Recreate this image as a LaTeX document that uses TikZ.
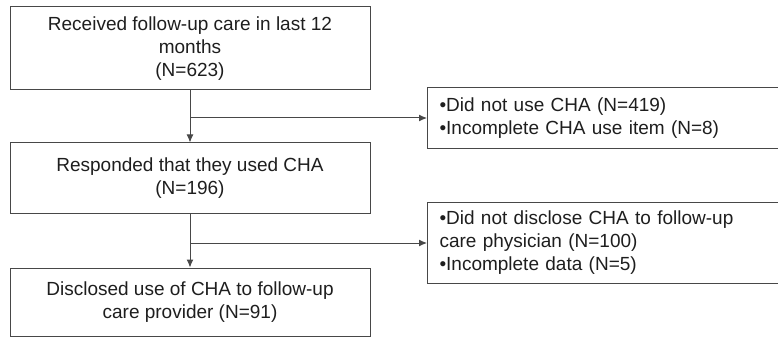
\documentclass[tikz,border=0pt]{standalone}
\usepackage{fontspec}
\setmainfont{Liberation Sans}
\usepackage{xcolor}
\usetikzlibrary{arrows.meta}
\definecolor{lineColor}{HTML}{484848}
\definecolor{textColor}{HTML}{1E1E1E}

\tikzset{
    stagebox/.style={draw=lineColor, line width=1pt, minimum width=360pt, align=center,
        text=textColor, font=\fontsize{19}{23}\selectfont, inner sep=0pt},
    exclbox/.style={draw=lineColor, line width=1pt, text width=390pt, align=left,
        inner xsep=12pt, inner ysep=0pt, anchor=north west, text=textColor,
        font=\fontsize{19}{23}\selectfont},
    flow/.style={draw=lineColor, line width=1pt, -{Latex[length=8pt, width=7pt]}}
}

\begin{document}
\begin{tikzpicture}[x=1pt, y=-1pt]
    \useasboundingbox (0,0) rectangle (778,339);

    % main stages
    \node[stagebox, minimum height=83pt] (recv) at (190,48.5)
        {Received follow-up care in last 12\\months\\(N=623)};
    \node[stagebox, minimum height=70pt] (used) at (190,178)
        {Responded that they used CHA\\(N=196)};
    \node[stagebox, minimum height=68pt] (discl) at (190,302)
        {Disclosed use of CHA to follow-up\\care provider (N=91)};

    % exclusions
    \node[exclbox, minimum height=61pt] (nouse) at (427,87)
        {\textbullet Did not use CHA (N=419)\\\textbullet Incomplete CHA use item (N=8)};
    \node[exclbox, minimum height=81pt] (nodiscl) at (427,202)
        {\textbullet Did not disclose CHA to follow-up\\care physician (N=100)\\\textbullet Incomplete data (N=5)};

    \draw[flow] (recv.south) -- (used.north);
    \coordinate (split1) at (recv.south |- nouse.west);
    \draw[flow] (split1) -- (nouse.west);

    \draw[flow] (used.south) -- (discl.north);
    \coordinate (split2) at (used.south |- nodiscl.west);
    \draw[flow] (split2) -- (nodiscl.west);
\end{tikzpicture}
\end{document}
